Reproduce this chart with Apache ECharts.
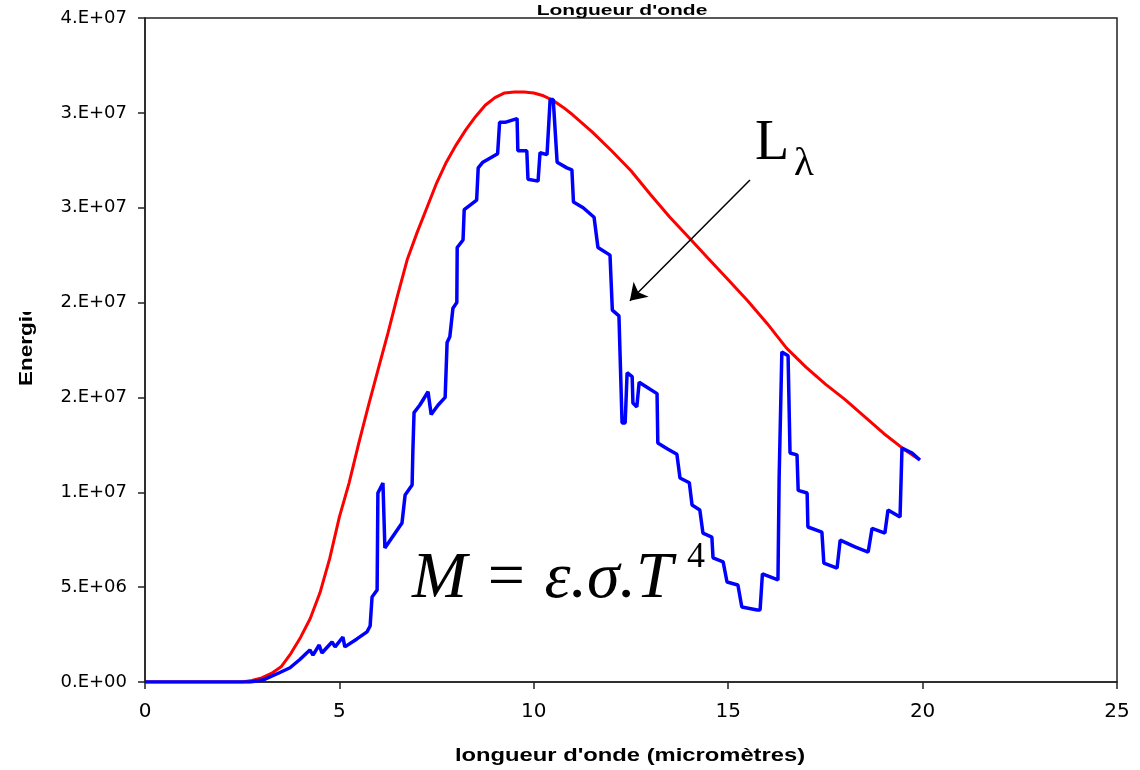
<!DOCTYPE html>
<html>
<head>
<meta charset="utf-8">
<script src="https://cdn.jsdelivr.net/npm/echarts@6/dist/echarts.min.js"></script>
<style>
html,body{margin:0;padding:0;background:#fff;}
#chart{width:1140px;height:770px;}
</style>
</head>
<body>
<div id="chart"></div>
<script>
// ---- data ----
const titleText = "Longueur d'onde";
const xAxisName = "longueur d'onde (micromètres)";
const yAxisName = "Energie";
const yTickLabels = ["0.E+00","5.E+06","1.E+07","2.E+07","2.E+07","3.E+07","3.E+07","4.E+07"];

// red curve (blackbody spectrum)
const redX = [0,2.5,2.75,3.0,3.25,3.5,3.75,4.0,4.25,4.5,4.75,5.0,5.25,5.5,5.75,6.0,6.25,6.5,6.75,7.0,7.25,7.5,7.75,8.0,8.25,8.5,8.75,9.0,9.25,9.5,9.75,10.0,10.25,10.5,10.75,11.0,11.5,12.0,12.5,13.0,13.5,14.0,14.5,15.0,15.5,16.0,16.5,17.0,17.5,18.0,18.5,19.0,19.5,19.93];
const redY = [0,0,0.08e6,0.22e6,0.45e6,0.8e6,1.5e6,2.35e6,3.35e6,4.7e6,6.5e6,8.7e6,10.5e6,12.6e6,14.6e6,16.5e6,18.4e6,20.4e6,22.3e6,23.7e6,25.0e6,26.3e6,27.4e6,28.3e6,29.1e6,29.8e6,30.4e6,30.8e6,31.05e6,31.1e6,31.1e6,31.05e6,30.9e6,30.65e6,30.3e6,29.9e6,29.0e6,28.0e6,26.95e6,25.7e6,24.5e6,23.4e6,22.3e6,21.2e6,20.1e6,18.9e6,17.6e6,16.6e6,15.7e6,14.9e6,14.0e6,13.1e6,12.3e6,11.7e6];

// blue curve (L lambda)
const blueX = [0,2.7,3.03,3.47,3.73,3.99,4.24,4.32,4.48,4.55,4.81,4.89,5.09,5.14,5.45,5.71,5.79,5.84,5.97,5.99,6.12,6.17,6.61,6.69,6.87,6.89,6.92,7.07,7.28,7.36,7.54,7.72,7.77,7.84,7.92,8.02,8.03,8.18,8.21,8.53,8.57,8.69,9.07,9.12,9.26,9.57,9.59,9.82,9.85,10.11,10.16,10.34,10.42,10.5,10.6,10.85,10.98,11.02,11.27,11.55,11.65,11.96,12.02,12.19,12.27,12.35,12.4,12.53,12.55,12.65,12.71,12.94,13.17,13.19,13.43,13.68,13.76,14.0,14.07,14.27,14.35,14.58,14.61,14.87,14.97,15.25,15.35,15.75,15.82,15.88,16.28,16.31,16.38,16.54,16.59,16.77,16.8,17.03,17.05,17.41,17.46,17.8,17.88,18.26,18.6,18.7,19.03,19.11,19.42,19.47,19.73,19.93];
const blueY = [0,0,0.1e6,0.5e6,0.75e6,1.2e6,1.69e6,1.42e6,1.95e6,1.53e6,2.11e6,1.85e6,2.37e6,1.85e6,2.27e6,2.64e6,2.95e6,4.48e6,4.85e6,9.96e6,10.49e6,7.06e6,8.38e6,9.86e6,10.38e6,12.2e6,14.2e6,14.6e6,15.3e6,14.1e6,14.6e6,15.0e6,17.9e6,18.2e6,19.7e6,20.0e6,22.9e6,23.3e6,24.9e6,25.4e6,27.1e6,27.4e6,27.85e6,29.5e6,29.5e6,29.7e6,28.0e6,28.0e6,26.5e6,26.4e6,27.9e6,27.8e6,30.7e6,30.7e6,27.4e6,27.1e6,27.0e6,25.3e6,25.0e6,24.5e6,22.9e6,22.5e6,19.6e6,19.3e6,13.65e6,13.65e6,16.3e6,16.1e6,14.7e6,14.5e6,15.8e6,15.5e6,15.2e6,12.6e6,12.3e6,12.0e6,10.75e6,10.5e6,9.33e6,9.07e6,7.85e6,7.64e6,6.54e6,6.33e6,5.27e6,5.11e6,3.95e6,3.8e6,3.8e6,5.7e6,5.38e6,10.75e6,17.4e6,17.2e6,12.07e6,11.97e6,10.1e6,9.96e6,8.17e6,7.9e6,6.27e6,6.0e6,7.48e6,7.12e6,6.85e6,8.1e6,7.85e6,9.07e6,8.7e6,12.33e6,12.07e6,11.7e6];

// annotation arrow (data coords)
const arrowStart = [15.56, 26.46e6];
const arrowEnd = [12.47, 20.1e6];

const redData = redX.map((x, i) => [x, redY[i]]);
const blueData = blueX.map((x, i) => [x, blueY[i]]);

const chart = echarts.init(document.getElementById('chart'), null, {renderer: 'canvas'});
const option = {
  backgroundColor: '#ffffff',
  animation: false,
  grid: {left: 145, right: 23, top: 18, bottom: 88, show: true, borderColor: '#222', borderWidth: 1.5, backgroundColor: 'transparent'},
  xAxis: {
    type: 'value', min: 0, max: 25, interval: 5,
    axisLine: {show: true, lineStyle: {color: '#222', width: 1.5}},
    axisTick: {show: true, inside: false, length: 7, lineStyle: {color: '#222', width: 1.5}},
    axisLabel: {color: '#000', fontSize: 20, fontFamily: 'DejaVu Sans', margin: 20},
    splitLine: {show: false}
  },
  yAxis: {
    type: 'value', min: 0, max: 35e6, interval: 5e6,
    axisLine: {show: true, lineStyle: {color: '#222', width: 1.5}},
    axisTick: {show: true, inside: false, length: 7, lineStyle: {color: '#222', width: 1.5}},
    axisLabel: {color: '#000', fontSize: 18, fontFamily: 'DejaVu Sans', margin: 18,
      formatter: function (v) { return yTickLabels[Math.round(v / 5e6)]; }},
    splitLine: {show: false}
  },
  series: [
    {
      type: 'line', data: redData, showSymbol: false, symbol: 'none',
      lineStyle: {color: '#ff0000', width: 3}, z: 2
    },
    {
      type: 'line', data: blueData, showSymbol: false, symbol: 'none',
      lineStyle: {color: '#0000ff', width: 3.5}, z: 3,
      markLine: {
        silent: true, symbol: ['none', 'arrow'], symbolSize: 16,
        lineStyle: {color: '#000', width: 1.5, type: 'solid'},
        itemStyle: {color: '#000'},
        label: {show: false},
        emphasis: {disabled: true},
        data: [[{coord: arrowStart, symbol: 'none'}, {coord: arrowEnd, symbol: 'arrow', symbolSize: 16}]]
      }
    }
  ],
  graphic: [
    {type: 'text', x: 622, y: 11, scaleX: 1.5, z: 10,
      style: {text: titleText, font: 'bold 14px "Liberation Sans"', fill: '#000', align: 'center', verticalAlign: 'middle'}},
    {type: 'text', x: 630, y: 756, scaleX: 1.32, z: 10,
      style: {text: xAxisName, font: 'bold 18px "Liberation Sans"', fill: '#000', align: 'center', verticalAlign: 'middle'}},
    {type: 'text', x: 27, y: 386, rotation: Math.PI / 2, scaleX: 1.25, z: 10,
      style: {text: yAxisName, font: 'bold 18px "Liberation Sans"', fill: '#000', align: 'left', verticalAlign: 'middle'}},
    {type: 'rect', z: 11, shape: {x: 5, y: 280, width: 40, height: 32}, style: {fill: '#fff'}},
    {type: 'text', x: 755, y: 144, z: 10,
      style: {text: 'L', font: '56px "Liberation Serif"', fill: '#000', align: 'left', verticalAlign: 'middle'}},
    {type: 'text', x: 794, y: 164, z: 10,
      style: {text: 'λ', font: '41px "Liberation Serif"', fill: '#000', align: 'left', verticalAlign: 'middle'}},
    {type: 'text', x: 412, y: 580, z: 10,
      style: {text: 'M = ε.σ.T', font: 'italic 66px "Liberation Serif"', fill: '#000', align: 'left', verticalAlign: 'middle'}},
    {type: 'text', x: 687, y: 558, z: 10,
      style: {text: '4', font: '36px "Liberation Serif"', fill: '#000', align: 'left', verticalAlign: 'middle'}}
  ]
};
chart.setOption(option);
</script>
</body>
</html>
